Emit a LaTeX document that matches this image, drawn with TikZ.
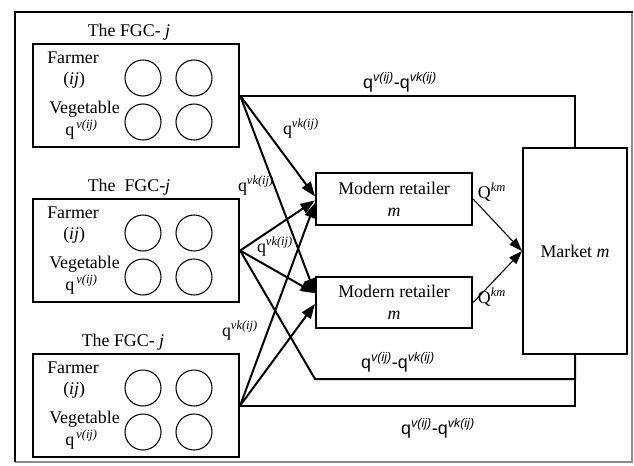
\documentclass[tikz,border=0pt]{standalone}
\usepackage{fontspec}
\setmainfont{Liberation Serif}
\setsansfont{Liberation Sans}
\usetikzlibrary{arrows.meta,calc}
\tikzset{
  fgcbox/.style={draw, line width=1.6pt, minimum width=154.5pt, minimum height=77.25pt, inner sep=0pt, anchor=north west},
  retbox/.style={draw, line width=1.6pt, minimum width=117pt, minimum height=39pt, inner sep=0pt, anchor=north west, align=center, font=\fontsize{13.4}{16.5}\selectfont},
  mkbox/.style={draw, line width=1.6pt, minimum width=78pt, minimum height=154.5pt, inner sep=0pt, anchor=north west, font=\fontsize{13.4}{16}\selectfont},
  farmer/.style={draw, circle, line width=0.8pt, minimum size=27pt, inner sep=0pt},
  lbl/.style={inner sep=0pt, font=\fontsize{13.4}{16}\selectfont},
  qlbl/.style={inner sep=0pt, font=\fontsize{13.4}{16}\selectfont},
  dlbl/.style={inner sep=0pt, font=\sffamily\fontsize{13.4}{16}\selectfont},
  arr/.style={line width=1.5pt, -{Triangle[length=11pt,width=8pt]}},
  thinarr/.style={line width=0.8pt, -{Triangle[length=10pt,width=7pt]}},
  flow/.style={line width=1.5pt}
}
\newcommand{\fgcgroup}[4]{%
\begin{scope}[shift={(0,#2)}]
\node[fgcbox] (#1) at (32,43) {};
\node[lbl] (#1t) at (#4,32) {#3};
\node[lbl, anchor=west] (#1a) at (47,58) {Farmer};
\node[lbl, anchor=west] (#1b) at (63,80) {(\textit{ij})};
\node[lbl, anchor=west] (#1c) at (49,109) {Vegetable};
\node[lbl, anchor=west] (#1d) at (65,130) {q\textsuperscript{\,\textit{v(ij)}}};
\node[farmer] (#1c1) at (143,78) {};
\node[farmer] (#1c2) at (194,78) {};
\node[farmer] (#1c3) at (143,122) {};
\node[farmer] (#1c4) at (194,122) {};
\end{scope}}
\begin{document}
\begin{tikzpicture}[x=0.75pt,y=-0.75pt]
\useasboundingbox (0,0) rectangle (634,465);
\fill[white] (0,0) rectangle (634,465);
% frame
\draw[black!45, line width=0.8pt] (632,12) -- (632,462) -- (15,462);
\draw[line width=2.2pt] (15,462) -- (15,12) -- (633,12);
% FGC groups
\fgcgroup{f1}{0}{The FGC- \textit{j}}{129}
\fgcgroup{f2}{155}{The\ \ FGC-\textit{j}}{129}
\fgcgroup{f3}{310}{The FGC- \textit{j}}{123}
% retailers and market
\node[retbox] (r1) at (315,172) {Modern retailer\\\textit{m}};
\node[retbox, minimum height=38.25pt] (r2) at (315,276) {Modern retailer\\\textit{m}};
\node[mkbox] (mk) at (522,147) {Market \textit{m}};
% flows to market
\draw[flow] (f1.east) -- (f1.east -| mk.north) -- (mk.north);
\coordinate (k1) at (315,379);
\draw[flow] (f2.east) -- (k1) -- (k1 -| mk.south) -- (mk.south);
\draw[flow] (f3.east) -- (f3.east -| mk.south) -- (mk.south);
% arrows to retailers
\draw[arr] (f1.east) -- ([yshift=2pt]r1.west);
\draw[arr] (f1.east) -- ([yshift=7pt]r2.west);
\draw[arr] (f2.east) -- ([yshift=-1pt]r1.west);
\draw[arr] (f2.east) -- ([yshift=7pt]r2.west);
\draw[arr] (f3.east) -- ([yshift=-3pt]r1.west);
\draw[arr] (f3.east) -- ([yshift=-1pt]r2.west);
% retailers to market
\draw[thinarr] (r1.east) -- (mk.west);
\draw[thinarr] (r2.east) -- (mk.west);
% labels
\node[dlbl] (d1) at (400,82) {q\textsuperscript{\itshape v(ij)}-q\textsuperscript{\itshape vk(ij)}};
\node[dlbl] (d2) at (398,362) {q\textsuperscript{\itshape v(ij)}-q\textsuperscript{\itshape vk(ij)}};
\node[dlbl] (d3) at (438,428) {q\textsuperscript{\itshape v(ij)}-q\textsuperscript{\itshape vk(ij)}};
\node[qlbl] (l1) at (301,129) {q\textsuperscript{\itshape vk(ij)}};
\node[qlbl] (l2) at (256,186) {q\textsuperscript{\itshape vk(ij)}};
\node[qlbl] (l3) at (275,247) {q\textsuperscript{\itshape vk(ij)}};
\node[qlbl] (l4) at (240,331) {q\textsuperscript{\itshape vk(ij)}};
\node[qlbl] (Q1) at (492,192) {Q\textsuperscript{\itshape km}};
\node[qlbl] (Q2) at (492,297) {Q\textsuperscript{\itshape km}};
\end{tikzpicture}
\end{document}
